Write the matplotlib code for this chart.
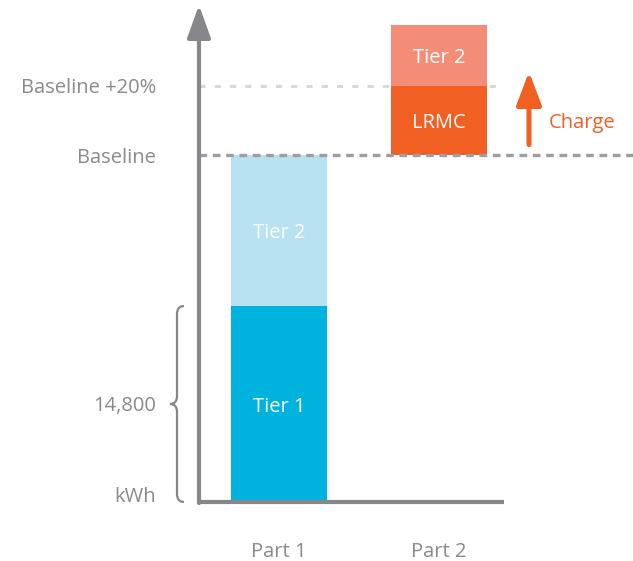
"""Tiered pricing chart: baseline, +20% band and LRMC charge."""

import matplotlib

matplotlib.use("Agg")
import matplotlib.pyplot as plt
from matplotlib.patches import FancyArrowPatch, PathPatch
from matplotlib.path import Path

plt.rcParams["font.family"] = ["Open Sans", "DejaVu Sans"]

# data (kWh)
parts = ["Part 1", "Part 2"]
tier1_kwh = 14800
baseline_kwh = 26200
baseline_plus_pct = 0.20
part1_labels = ["Tier 1", "Tier 2"]
part1_values = [14800, 11400]
part2_labels = ["LRMC", "Tier 2"]
part2_values = [5240, 4560]
ytick_labels = ["kWh", "14,800", "Baseline", "Baseline +20%"]

GRAY = "#87878B"
TEXT_GRAY = "#8A8A8E"
BLUE = ["#00B3DE", "#B8E1F2"]
ORANGE = ["#F15F22", "#F48D77"]
FS = 14.5

fig = plt.figure(figsize=(6.33, 5.61), dpi=100)
# axis origin at pixel (199, 502), axes runs to the right/top edges
ax = fig.add_axes([199 / 633, 59 / 561, 434 / 633, 502 / 561])
px_per_kwh = 196 / tier1_kwh
ax.set_ylim(0, 502 / px_per_kwh)
ax.set_xlim(-0.5, (633 - 279) / 160)
for side in ax.spines.values():
    side.set_visible(False)

baseline_high = baseline_kwh * (1 + baseline_plus_pct)

# reference lines
ax.axhline(baseline_high, xmin=0, xmax=305 / 434, color="#D8D8D8", lw=2.2,
           linestyle=(0, (2.0, 3.0)), zorder=1)
ax.axhline(baseline_kwh, color="#9E9EA2", lw=2.4,
           linestyle=(0, (2.3, 1.7)), zorder=3)

# bars
bar_w = 0.6
bottom = 0
for value, label, color in zip(part1_values, part1_labels, BLUE):
    ax.bar(0, value, bar_w, bottom=bottom, color=color, zorder=2)
    ax.text(0, bottom + value / 2, label, ha="center", va="center_baseline",
            color="white", fontsize=FS)
    bottom += value

bottom = baseline_kwh
for value, label, color in zip(part2_values, part2_labels, ORANGE):
    ax.bar(1, value, bar_w, bottom=bottom, color=color, zorder=2)
    ax.text(1, bottom + value / 2, label, ha="center", va="center_baseline",
            color="white", fontsize=FS)
    bottom += value

# axes lines with arrow on y
ax.plot([-0.5, (504 - 279) / 160], [0, 0], color=GRAY, lw=3,
        solid_capstyle="butt", clip_on=False, zorder=4)
y_arrow = FancyArrowPatch((-0.5, -1 / px_per_kwh), (-0.5, 497 / px_per_kwh),
                          arrowstyle="-|>,head_length=1.0,head_width=0.36",
                          mutation_scale=20, lw=3, color=GRAY,
                          shrinkA=0, shrinkB=0, clip_on=False, zorder=4)
ax.add_patch(y_arrow)

# charge arrow
charge_x = (529 - 279) / 160
charge = FancyArrowPatch((charge_x, baseline_kwh * 1.03),
                         (charge_x, baseline_kwh * 1.24),
                         arrowstyle="-|>,head_length=1.0,head_width=0.38",
                         mutation_scale=20, lw=3.6, color=ORANGE[0],
                         shrinkA=0, shrinkB=0)
ax.add_patch(charge)
ax.text((582 - 279) / 160, baseline_kwh * 1.1, "Charge", ha="center",
        va="center_baseline", color=ORANGE[0], fontsize=FS)

# brace next to Tier 1
bx = lambda p: (p - 279) / 160
top = tier1_kwh
mid = tier1_kwh / 2
d = 8 / px_per_kwh
verts = [
    (bx(184), top), (bx(177), top), (bx(177), top - d),
    (bx(177), mid + d), (bx(177), mid), (bx(170), mid),
    (bx(177), mid), (bx(177), mid - d),
    (bx(177), d), (bx(177), 0), (bx(184), 0),
]
codes = [Path.MOVETO, Path.CURVE3, Path.CURVE3,
         Path.LINETO, Path.CURVE3, Path.CURVE3,
         Path.CURVE3, Path.CURVE3,
         Path.LINETO, Path.CURVE3, Path.CURVE3]
ax.add_patch(PathPatch(Path(verts, codes), fill=False, edgecolor=GRAY,
                       lw=1.6, clip_on=False))

# y labels
ax.set_yticks([0, mid, baseline_kwh, baseline_high], ytick_labels)
ax.tick_params(axis="y", length=0, pad=31, labelsize=FS, labelcolor=TEXT_GRAY)
ax.get_yticklabels()[0].set_va("baseline")

ax.set_xticks(range(len(parts)), parts)
ax.tick_params(axis="x", length=0, pad=29, labelsize=FS, labelcolor=TEXT_GRAY)

fig.savefig("out.png", dpi=100)
